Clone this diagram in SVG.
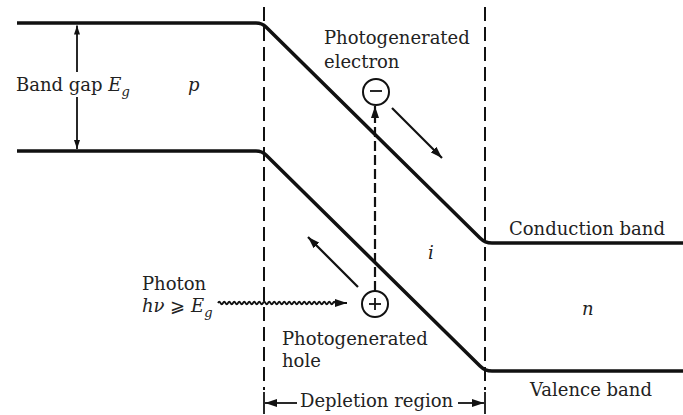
<svg xmlns="http://www.w3.org/2000/svg" width="683" height="415" viewBox="0 0 683 415">
<style>
text{font-family:"DejaVu Serif","Liberation Serif",serif;font-size:18px;fill:#222}
.it{font-style:italic}
.band{fill:none;stroke:#111;stroke-width:3.5;stroke-linejoin:round}
.dash{fill:none;stroke:#111;stroke-width:2;stroke-dasharray:14 6}
.ln{fill:none;stroke:#111;stroke-width:1.8}
.arr{fill:none;stroke:#111;stroke-width:2.2;marker-end:url(#ah)}
.circ{fill:#fff;stroke:#111;stroke-width:2}
</style>
<defs>
<marker id="ah" markerUnits="userSpaceOnUse" markerWidth="12" markerHeight="8" refX="12" refY="4" orient="auto-start-reverse">
<path d="M0,0 L12,4 L0,8 z" fill="#111"/>
</marker>
<marker id="ahs" markerUnits="userSpaceOnUse" markerWidth="9" markerHeight="6" refX="9" refY="3" orient="auto-start-reverse">
<path d="M0,0 L9,3 L0,6 z" fill="#111"/>
</marker>
</defs>

<g id="bands">
<path id="conduction-band" class="band" d="M17,23 H256 Q262,23 266,27 L480,238 Q485,243 492,243 H683"/>
<path id="valence-band" class="band" d="M17,151 H256 Q262,151 266,155 L480,366 Q485,371 492,371 H683"/>
</g>

<g id="depletion-boundaries">
<line class="dash" x1="264" y1="7" x2="264" y2="390"/>
<line class="dash" x1="485" y1="7" x2="485" y2="390"/>
<line class="ln" x1="264" y1="392" x2="264" y2="414"/>
<line class="ln" x1="485" y1="392" x2="485" y2="414"/>
</g>

<g id="connectors">
<line class="ln" x1="77" y1="72" x2="77" y2="25.5" marker-end="url(#ahs)"/>
<line class="ln" x1="77" y1="97" x2="77" y2="149" marker-end="url(#ahs)"/>
<line class="arr" x1="375" y1="291" x2="375" y2="106" stroke-dasharray="10 4" stroke-width="2.4"/>
<line class="arr" x1="392" y1="108" x2="442" y2="158"/>
<line class="arr" x1="358" y1="287" x2="308" y2="237"/>
<path class="ln" marker-end="url(#ah)" d="M218,303 q1.25,-2.5 2.5,0 t2.5,0 t2.5,0 t2.5,0 t2.5,0 t2.5,0 t2.5,0 t2.5,0 t2.5,0 t2.5,0 t2.5,0 t2.5,0 t2.5,0 t2.5,0 t2.5,0 t2.5,0 t2.5,0 t2.5,0 t2.5,0 t2.5,0 t2.5,0 t2.5,0 t2.5,0 t2.5,0 t2.5,0 t2.5,0 t2.5,0 t2.5,0 t2.5,0 t2.5,0 t2.5,0 t2.5,0 t2.5,0 t2.5,0 t2.5,0 t2.5,0 t2.5,0 t2.5,0 t2.5,0 t2.5,0 t2.5,0 t2.5,0 t2.5,0 t2.5,0 t2.5,0 t2.5,0 t2.5,0 t2.5,0 L347,303"/>
<line class="ln" x1="297" y1="403" x2="265" y2="403" marker-end="url(#ah)"/>
<line class="ln" x1="458" y1="403" x2="484" y2="403" marker-end="url(#ah)"/>
</g>

<g id="electron">
<circle class="circ" cx="376" cy="92" r="13"/>
<line class="ln" x1="370" y1="91" x2="382" y2="91"/>
</g>
<g id="hole">
<circle class="circ" cx="375" cy="304" r="13"/>
<line class="ln" x1="369" y1="304" x2="381" y2="304"/>
<line class="ln" x1="375" y1="298" x2="375" y2="310"/>
</g>

<g id="labels">
<text x="16" y="91">Band gap <tspan class="it">E</tspan><tspan class="it" font-size="13" dy="5">g</tspan></text>
<text class="it" x="188" y="91">p</text>
<text x="324" y="44">Photogenerated</text>
<text x="324" y="68">electron</text>
<text class="it" x="428" y="259">i</text>
<text x="509" y="235">Conduction band</text>
<text class="it" x="582" y="315">n</text>
<text x="142" y="290">Photon</text>
<text x="142" y="312"><tspan class="it">hν</tspan> ⩾ <tspan class="it">E</tspan><tspan class="it" font-size="13" dy="5">g</tspan></text>
<text x="282" y="345">Photogenerated</text>
<text x="282" y="367">hole</text>
<text x="300" y="407">Depletion region</text>
<text x="530" y="396">Valence band</text>
</g>
</svg>
